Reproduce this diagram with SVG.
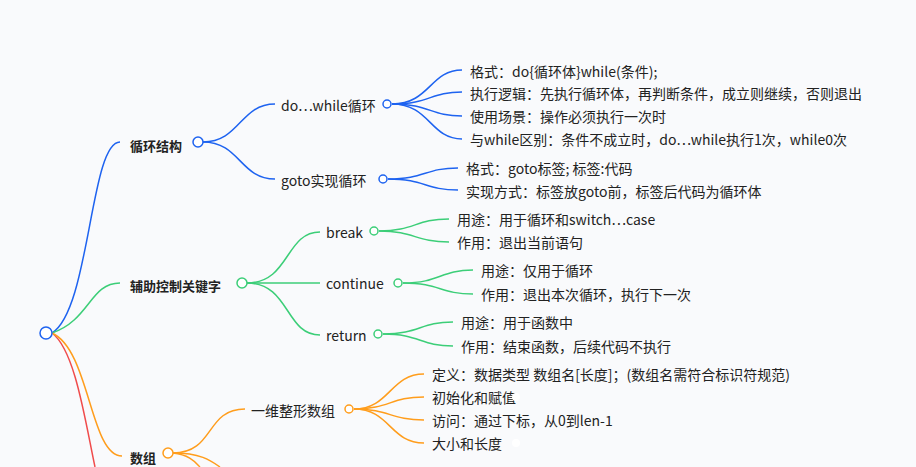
<svg xmlns="http://www.w3.org/2000/svg" width="916" height="467" viewBox="0 0 916 467">
<style>
text{font-family:"Microsoft YaHei","Noto Sans CJK SC",sans-serif;font-size:14px;fill:#222;dominant-baseline:central}
.b{font-weight:bold;font-size:13px}
path{fill:none;stroke-width:1.5}
.bl{stroke:#1e63f0}.gr{stroke:#3cce78}.or{stroke:#ff9d1c}.rd{stroke:#f04b4b}
circle{fill:#fff;stroke-width:1.5}
</style>
<rect width="916" height="467" fill="#f9fafc"/>
<g id="connectors">
<path class="rd" d="M52,333 C75,350 85,420 95,467"/>
<path class="bl" d="M52,333 C90,310 90,142 120,142"/>
<path class="gr" d="M52,333 C90,320 90,283 120,283"/>
<path class="or" d="M52,333 C90,350 90,456 122,456"/>
<path class="bl" d="M203,142 C240,142 240,104 275,104"/>
<path class="bl" d="M203,142 C240,142 240,179 275,179"/>
<path class="bl" d="M392,104 C430,104 430,70 462,70"/>
<path class="bl" d="M392,104 C430,104 430,92 462,92"/>
<path class="bl" d="M392,104 C430,104 430,116 462,116"/>
<path class="bl" d="M392,104 C430,104 430,139 462,139"/>
<path class="bl" d="M388,179 C425,179 425,168 458,168"/>
<path class="bl" d="M388,179 C425,179 425,190 458,190"/>
<path class="gr" d="M247,283 C290,283 285,232 320,232"/>
<path class="gr" d="M247,283 L320,283"/>
<path class="gr" d="M247,283 C290,283 285,335 320,335"/>
<path class="gr" d="M379,231 C415,231 415,219 449,219"/>
<path class="gr" d="M379,231 C415,231 415,242 449,242"/>
<path class="gr" d="M403,283 C440,283 440,270 473,270"/>
<path class="gr" d="M403,283 C440,283 440,294 473,294"/>
<path class="gr" d="M383,334 C420,334 420,322 453,322"/>
<path class="gr" d="M383,334 C420,334 420,346 453,346"/>
<path class="or" d="M173,453 C215,453 205,409 245,409"/>
<path class="or" d="M173,453 C200,453 210,460 220,467"/>
<path class="or" d="M173,453 C190,455 195,462 200,467"/>
<path class="or" d="M354,409 C390,409 390,374 424,374"/>
<path class="or" d="M354,409 C390,409 390,397 424,397"/>
<path class="or" d="M354,409 C390,409 390,420 424,420"/>
<path class="or" d="M354,409 C390,409 390,443 424,443"/>
</g>
<g id="root"><circle cx="46" cy="333" r="6" stroke="#1e63f0"/></g>
<g id="n1"><text class="b" x="130" y="145">循环结构</text><circle cx="198" cy="142" r="5" stroke="#1e63f0"/></g>
<g id="n11"><text x="281" y="105">do…while循环</text><circle cx="387" cy="104" r="4" stroke="#1e63f0"/></g>
<g id="n111"><text x="470" y="71">格式：do{循环体}while(条件);</text></g>
<g id="n112"><text x="470" y="93">执行逻辑：先执行循环体，再判断条件，成立则继续，否则退出</text></g>
<g id="n113"><text x="470" y="116">使用场景：操作必须执行一次时</text></g>
<g id="n114"><text x="470" y="139">与while区别：条件不成立时，do…while执行1次，while0次</text></g>
<g id="n12"><text x="281" y="180">goto实现循环</text><circle cx="383" cy="179" r="4" stroke="#1e63f0"/></g>
<g id="n121"><text x="466" y="168">格式：goto标签; 标签:代码</text></g>
<g id="n122"><text x="466" y="191">实现方式：标签放goto前，标签后代码为循环体</text></g>
<g id="n2"><text class="b" x="130" y="285">辅助控制关键字</text><circle cx="242" cy="283" r="5" stroke="#3cce78"/></g>
<g id="n21"><text x="326" y="232">break</text><circle cx="374" cy="231" r="4" stroke="#3cce78"/></g>
<g id="n211"><text x="457" y="219">用途：用于循环和switch…case</text></g>
<g id="n212"><text x="457" y="242">作用：退出当前语句</text></g>
<g id="n22"><text x="326" y="283">continue</text><circle cx="398" cy="283" r="4" stroke="#3cce78"/></g>
<g id="n221"><text x="481" y="270">用途：仅用于循环</text></g>
<g id="n222"><text x="481" y="294">作用：退出本次循环，执行下一次</text></g>
<g id="n23"><text x="326" y="335">return</text><circle cx="378" cy="334" r="4" stroke="#3cce78"/></g>
<g id="n231"><text x="461" y="322">用途：用于函数中</text></g>
<g id="n232"><text x="461" y="346">作用：结束函数，后续代码不执行</text></g>
<g id="n3"><text class="b" x="130" y="457">数组</text><circle cx="168" cy="453" r="5" stroke="#ff9d1c"/></g>
<g id="n31"><text x="251" y="410">一维整形数组</text><circle cx="349" cy="409" r="4" stroke="#ff9d1c"/></g>
<g id="n311"><text x="432" y="374">定义：数据类型 数组名[长度]；(数组名需符合标识符规范)</text></g>
<g id="n312"><text x="432" y="397">初始化和赋值</text><circle cx="516" cy="397" r="4" fill="#ff9d1c" stroke="none"/></g>
<g id="n313"><text x="432" y="420">访问：通过下标，从0到len-1</text></g>
<g id="n314"><text x="432" y="443">大小和长度</text><circle cx="516" cy="443" r="4" fill="#ff9d1c" stroke="none"/></g>
</svg>
